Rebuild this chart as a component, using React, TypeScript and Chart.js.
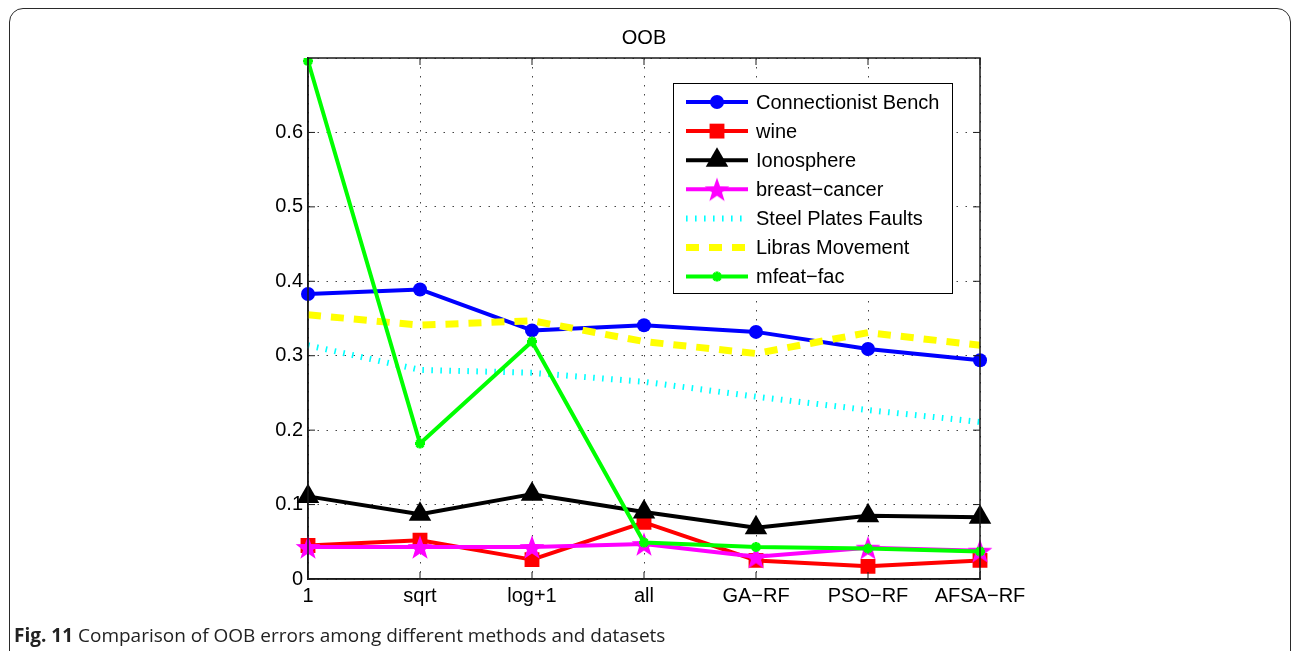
import React, { useEffect, useRef } from 'react';
import { Chart, registerables } from 'chart.js';

Chart.register(...registerables);

const categories = ['1', 'sqrt', 'log+1', 'all', 'GA−RF', 'PSO−RF', 'AFSA−RF'];
const seriesNames = [
  'Connectionist Bench',
  'wine',
  'Ionosphere',
  'breast−cancer',
  'Steel Plates Faults',
  'Libras Movement',
  'mfeat−fac',
];
const connectionistBench = [0.383, 0.389, 0.334, 0.341, 0.332, 0.309, 0.294];
const wine = [0.045, 0.052, 0.026, 0.076, 0.025, 0.017, 0.025];
const ionosphere = [0.111, 0.087, 0.114, 0.09, 0.069, 0.085, 0.083];
const breastCancer = [0.043, 0.043, 0.043, 0.047, 0.03, 0.042, 0.038];
const steelPlatesFaults = [0.314, 0.281, 0.277, 0.265, 0.245, 0.227, 0.211];
const librasMovement = [0.355, 0.341, 0.347, 0.319, 0.303, 0.331, 0.314];
const mfeatFac = [0.696, 0.182, 0.319, 0.049, 0.043, 0.041, 0.037];
const yTicks = [0, 0.1, 0.2, 0.3, 0.4, 0.5, 0.6];
const chartTitle = 'OOB';
const captionBold = 'Fig. 11';
const captionText = ' Comparison of OOB errors among different methods and datasets';

const FONT = "'Liberation Sans', Arial, Helvetica, sans-serif";

function makePentagram(size: number, color: string): HTMLCanvasElement {
  const c = document.createElement('canvas');
  c.width = size;
  c.height = size;
  const ctx = c.getContext('2d')!;
  const R = size / 2;
  const r = R * 0.4;
  const cy = R + R * 0.1;
  ctx.beginPath();
  for (let i = 0; i < 10; i++) {
    const a = -Math.PI / 2 + (i * Math.PI) / 5;
    const rad = i % 2 === 0 ? R : r;
    const x = R + rad * Math.cos(a);
    const y = cy + rad * Math.sin(a);
    if (i === 0) ctx.moveTo(x, y);
    else ctx.lineTo(x, y);
  }
  ctx.closePath();
  ctx.fillStyle = color;
  ctx.fill();
  return c;
}

type MarkerKind = 'circle' | 'square' | 'triangle' | 'pentagram' | 'asterisk' | 'none';

const styles: { color: string; width: number; dash: number[]; marker: MarkerKind; size: number }[] = [
  { color: '#0000ff', width: 4, dash: [], marker: 'circle', size: 7 },
  { color: '#ff0000', width: 4, dash: [], marker: 'square', size: 10.5 },
  { color: '#000000', width: 4, dash: [], marker: 'triangle', size: 13 },
  { color: '#ff00ff', width: 4, dash: [], marker: 'pentagram', size: 26 },
  { color: '#00ffff', width: 6, dash: [1.6, 7.4], marker: 'none', size: 0 },
  { color: '#ffff00', width: 7, dash: [13, 10], marker: 'none', size: 0 },
  { color: '#00ff00', width: 4, dash: [], marker: 'asterisk', size: 5 },
];

function drawMarker(ctx: CanvasRenderingContext2D, kind: MarkerKind, x: number, y: number, size: number, color: string, img?: HTMLCanvasElement) {
  ctx.save();
  ctx.setLineDash([]);
  ctx.fillStyle = color;
  ctx.strokeStyle = color;
  if (kind === 'circle') {
    ctx.beginPath();
    ctx.arc(x, y, size, 0, Math.PI * 2);
    ctx.fill();
  } else if (kind === 'square') {
    const s = size * Math.SQRT1_2;
    ctx.fillRect(x - s, y - s, 2 * s, 2 * s);
  } else if (kind === 'triangle') {
    ctx.beginPath();
    for (let i = 0; i < 3; i++) {
      const a = (i * 2 * Math.PI) / 3;
      const px = x + Math.sin(a) * size;
      const py = y - Math.cos(a) * size;
      if (i === 0) ctx.moveTo(px, py);
      else ctx.lineTo(px, py);
    }
    ctx.closePath();
    ctx.fill();
  } else if (kind === 'pentagram' && img) {
    ctx.drawImage(img, x - img.width / 2, y - img.height / 2);
  } else if (kind === 'asterisk') {
    ctx.lineWidth = 3;
    ctx.beginPath();
    ctx.moveTo(x - size, y);
    ctx.lineTo(x + size, y);
    ctx.moveTo(x, y - size);
    ctx.lineTo(x, y + size);
    const d = size * Math.SQRT1_2;
    ctx.moveTo(x - d, y - d);
    ctx.lineTo(x + d, y + d);
    ctx.moveTo(x - d, y + d);
    ctx.lineTo(x + d, y - d);
    ctx.stroke();
  }
  ctx.restore();
}

export default function App() {
  const canvasRef = useRef<HTMLCanvasElement | null>(null);

  useEffect(() => {
    const canvas = canvasRef.current;
    if (!canvas) return;
    const star = makePentagram(26, '#ff00ff');
    const seriesData = [connectionistBench, wine, ionosphere, breastCancer, steelPlatesFaults, librasMovement, mfeatFac];

    const pointStyleFor = (k: MarkerKind): any => {
      if (k === 'circle') return 'circle';
      if (k === 'square') return 'rect';
      if (k === 'triangle') return 'triangle';
      if (k === 'pentagram') return star;
      if (k === 'asterisk') return 'star';
      return false;
    };

    const datasets = seriesData.map((d, i) => {
      const st = styles[i];
      return {
        label: seriesNames[i],
        data: d,
        borderColor: st.color,
        backgroundColor: st.color,
        borderWidth: st.width,
        borderDash: st.dash,
        borderCapStyle: 'butt' as const,
        borderJoinStyle: 'round' as const,
        tension: 0,
        fill: false,
        order: seriesData.length - 1 - i,
        pointStyle: pointStyleFor(st.marker),
        pointRadius: st.marker === 'none' ? 0 : st.size,
        pointBackgroundColor: st.color,
        pointBorderColor: st.color,
        pointBorderWidth: st.marker === 'asterisk' ? 3 : 0,
        pointHoverRadius: st.size,
      };
    });

    const framePlugin = {
      id: 'matlabFrame',
      afterDatasetsDraw(chart: any) {
        const { ctx, chartArea } = chart;
        const { left, right, top, bottom } = chartArea;
        const xs = chart.scales.x;
        const ys = chart.scales.y;
        ctx.save();
        ctx.strokeStyle = '#1a1a1a';
        ctx.lineWidth = 1.5;
        ctx.setLineDash([]);
        ctx.strokeRect(left, top, right - left, bottom - top);
        ctx.beginPath();
        const tl = 7;
        for (let i = 0; i < categories.length; i++) {
          const px = xs.getPixelForValue(i);
          ctx.moveTo(px, bottom);
          ctx.lineTo(px, bottom - tl);
          ctx.moveTo(px, top);
          ctx.lineTo(px, top + tl);
        }
        for (const v of yTicks) {
          const py = ys.getPixelForValue(v);
          ctx.moveTo(left, py);
          ctx.lineTo(left + tl, py);
          ctx.moveTo(right, py);
          ctx.lineTo(right - tl, py);
        }
        ctx.lineWidth = 1;
        ctx.stroke();

        ctx.fillStyle = '#000';
        ctx.font = `20px ${FONT}`;
        ctx.textAlign = 'center';
        ctx.textBaseline = 'middle';
        ctx.fillText(chartTitle, (left + right) / 2, top - 20);

        const lx = right - 307;
        const ly = top + 25;
        const lw = 279;
        const lh = 210;
        ctx.fillStyle = '#fff';
        ctx.fillRect(lx, ly, lw, lh);
        ctx.strokeStyle = '#000';
        ctx.lineWidth = 1;
        ctx.strokeRect(lx + 0.5, ly + 0.5, lw, lh);
        ctx.textAlign = 'left';
        ctx.textBaseline = 'middle';
        ctx.font = `20px ${FONT}`;
        for (let i = 0; i < seriesNames.length; i++) {
          const st = styles[i];
          const y = ly + 19 + i * 29.1;
          const x0 = lx + 13;
          const x1 = lx + 75;
          ctx.save();
          ctx.strokeStyle = st.color;
          ctx.lineWidth = st.width;
          ctx.lineCap = 'butt';
          ctx.setLineDash(st.dash);
          ctx.beginPath();
          ctx.moveTo(x0, y);
          ctx.lineTo(x1, y);
          ctx.stroke();
          ctx.restore();
          drawMarker(ctx, st.marker, (x0 + x1) / 2, y, st.size, st.color, star);
          ctx.fillStyle = '#000';
          ctx.fillText(seriesNames[i], lx + 83, y + 1);
        }
        ctx.restore();
      },
    };

    const chart = new Chart(canvas, {
      type: 'line',
      data: { labels: categories, datasets },
      options: {
        animation: false,
        responsive: false,
        maintainAspectRatio: false,
        events: [],
        layout: { padding: { left: 248, top: 58, right: 312, bottom: 32 } },
        plugins: {
          legend: { display: false },
          title: { display: false },
          tooltip: { enabled: false },
        },
        scales: {
          x: {
            type: 'category',
            offset: false,
            afterFit: (scale: any) => {
              scale.height = 40;
            },
            grid: {
              offset: false,
              color: '#444',
              lineWidth: 1,
              drawTicks: false,
            },
            border: { display: true, color: '#1a1a1a', width: 1.5, dash: [1.5, 7.5] },
            ticks: {
              color: '#000',
              font: { family: FONT, size: 20 },
              padding: 5,
              maxRotation: 0,
              autoSkip: false,
            },
          },
          y: {
            type: 'linear',
            min: 0,
            max: 0.7,
            afterFit: (scale: any) => {
              scale.width = 60;
            },
            grid: {
              color: '#444',
              lineWidth: 1,
              drawTicks: false,
            },
            border: { display: true, color: '#1a1a1a', width: 1.5, dash: [1.5, 7.5] },
            ticks: {
              stepSize: 0.1,
              color: '#000',
              font: { family: FONT, size: 20 },
              padding: 5,
              callback: (v: any) => {
                const n = Number(v);
                if (n > 0.65) return '';
                return yTicks.some((t) => Math.abs(t - n) < 1e-9) ? String(Math.round(n * 10) / 10) : '';
              },
            },
          },
        },
      },
      plugins: [framePlugin],
    } as any);

    return () => {
      chart.destroy();
    };
  }, []);

  return (
    <div
      style={{
        position: 'fixed',
        left: 0,
        top: 0,
        width: 1292,
        height: 651,
        overflow: 'hidden',
        background: '#fff',
      }}
    >
      <div
        style={{
          position: 'absolute',
          left: 9,
          top: 8,
          width: 1282,
          height: 720,
          border: '1.5px solid #2a2a2a',
          borderRadius: 14,
          boxSizing: 'border-box',
        }}
      />
      <canvas
        ref={canvasRef}
        width={1292}
        height={651}
        style={{ position: 'absolute', left: 0, top: 0, width: 1292, height: 651, display: 'block' }}
      />
      <div
        style={{
          position: 'absolute',
          left: 14,
          top: 623,
          fontFamily: "'Open Sans', 'Noto Sans', sans-serif",
          fontSize: 19,
          lineHeight: '24px',
          color: '#222',
          whiteSpace: 'nowrap',
        }}
      >
        <b>{captionBold}</b>
        {captionText}
      </div>
    </div>
  );
}
